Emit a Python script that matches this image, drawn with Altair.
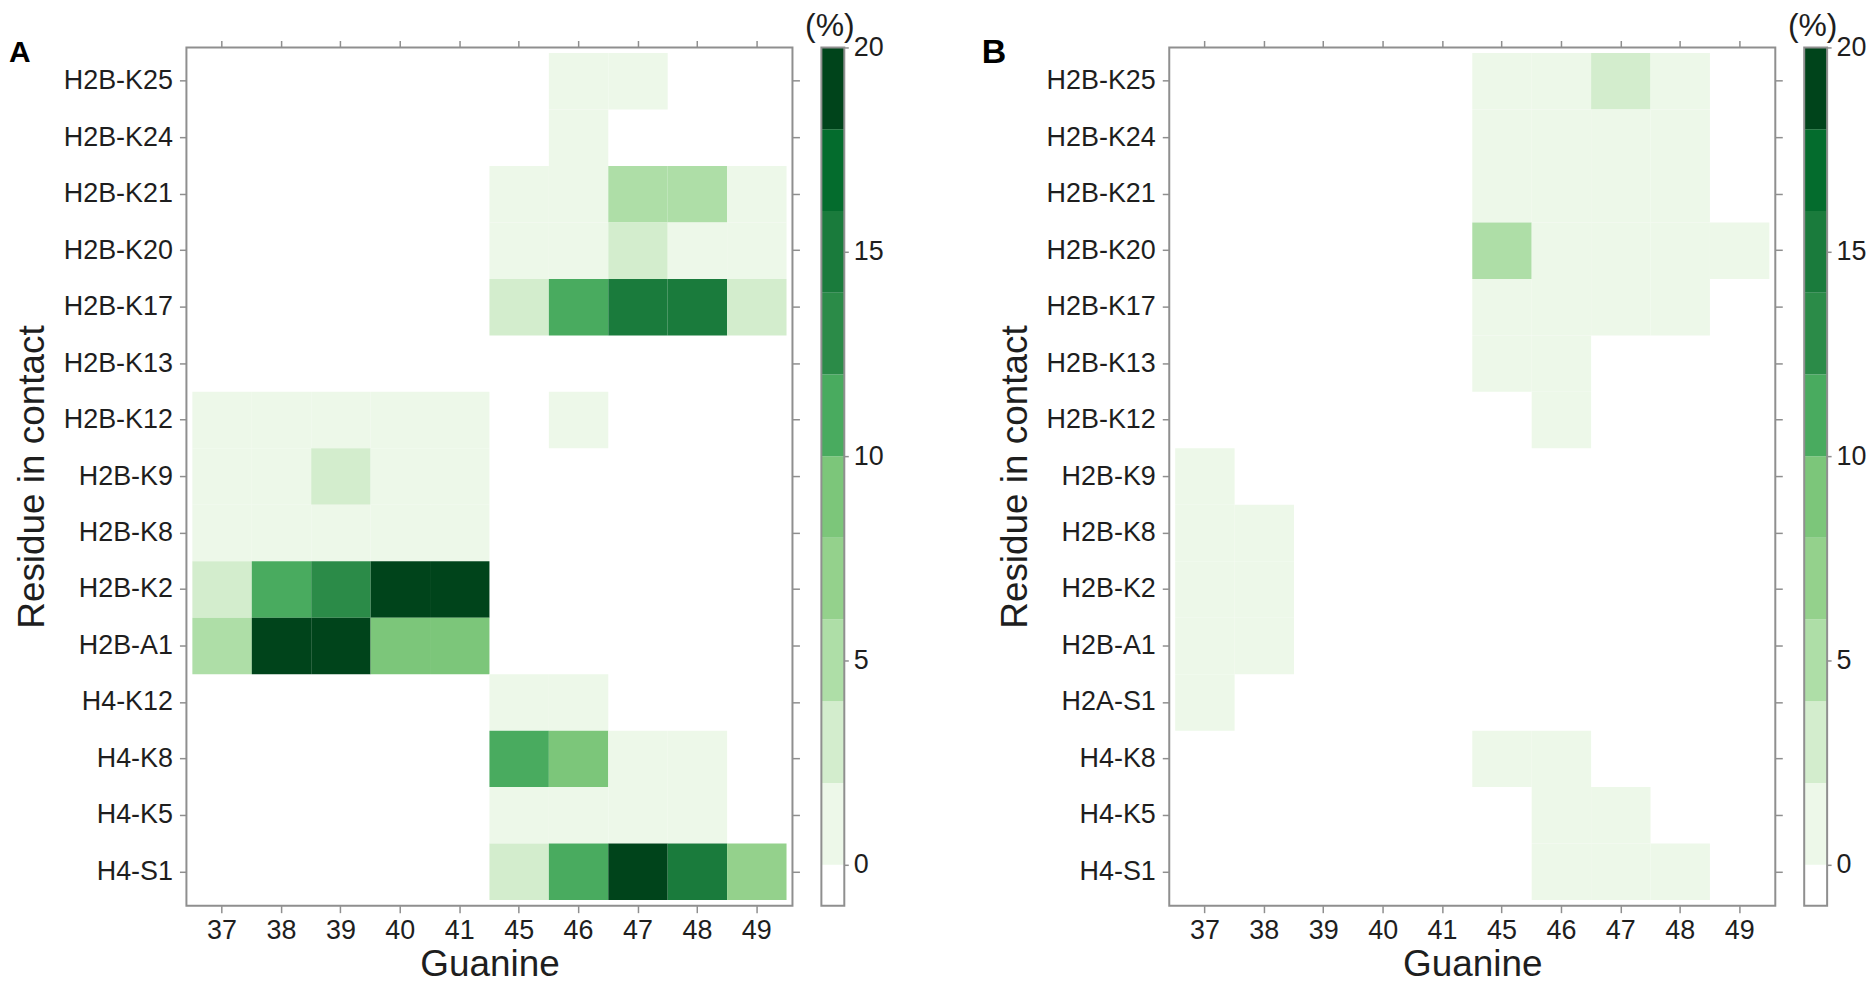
import altair as alt
import pandas as pd

# ---------------- data ----------------
guanine = ["37", "38", "39", "40", "41", "45", "46", "47", "48", "49"]

residues_a = ["H2B-K25", "H2B-K24", "H2B-K21", "H2B-K20", "H2B-K17", "H2B-K13",
              "H2B-K12", "H2B-K9", "H2B-K8", "H2B-K2", "H2B-A1", "H4-K12",
              "H4-K8", "H4-K5", "H4-S1"]
#            37  38  39  40  41  45  46  47  48  49
a_h2b_k25 = [0,  0,  0,  0,  0,  0,  1,  1,  0,  0]
a_h2b_k24 = [0,  0,  0,  0,  0,  0,  1,  0,  0,  0]
a_h2b_k21 = [0,  0,  0,  0,  0,  1,  1,  5,  5,  1]
a_h2b_k20 = [0,  0,  0,  0,  0,  1,  1,  3,  1,  1]
a_h2b_k17 = [0,  0,  0,  0,  0,  3, 11, 15, 15,  3]
a_h2b_k13 = [0,  0,  0,  0,  0,  0,  0,  0,  0,  0]
a_h2b_k12 = [1,  1,  1,  1,  1,  0,  1,  0,  0,  0]
a_h2b_k9  = [1,  1,  3,  1,  1,  0,  0,  0,  0,  0]
a_h2b_k8  = [1,  1,  1,  1,  1,  0,  0,  0,  0,  0]
a_h2b_k2  = [3, 11, 13, 19, 19,  0,  0,  0,  0,  0]
a_h2b_a1  = [5, 19, 19,  9,  9,  0,  0,  0,  0,  0]
a_h4_k12  = [0,  0,  0,  0,  0,  1,  1,  0,  0,  0]
a_h4_k8   = [0,  0,  0,  0,  0, 11,  9,  1,  1,  0]
a_h4_k5   = [0,  0,  0,  0,  0,  1,  1,  1,  1,  0]
a_h4_s1   = [0,  0,  0,  0,  0,  3, 11, 19, 15,  7]

residues_b = ["H2B-K25", "H2B-K24", "H2B-K21", "H2B-K20", "H2B-K17", "H2B-K13",
              "H2B-K12", "H2B-K9", "H2B-K8", "H2B-K2", "H2B-A1", "H2A-S1",
              "H4-K8", "H4-K5", "H4-S1"]
#            37  38  39  40  41  45  46  47  48  49
b_h2b_k25 = [0,  0,  0,  0,  0,  1,  1,  3,  1,  0]
b_h2b_k24 = [0,  0,  0,  0,  0,  1,  1,  1,  1,  0]
b_h2b_k21 = [0,  0,  0,  0,  0,  1,  1,  1,  1,  0]
b_h2b_k20 = [0,  0,  0,  0,  0,  5,  1,  1,  1,  1]
b_h2b_k17 = [0,  0,  0,  0,  0,  1,  1,  1,  1,  0]
b_h2b_k13 = [0,  0,  0,  0,  0,  1,  1,  0,  0,  0]
b_h2b_k12 = [0,  0,  0,  0,  0,  0,  1,  0,  0,  0]
b_h2b_k9  = [1,  0,  0,  0,  0,  0,  0,  0,  0,  0]
b_h2b_k8  = [1,  1,  0,  0,  0,  0,  0,  0,  0,  0]
b_h2b_k2  = [1,  1,  0,  0,  0,  0,  0,  0,  0,  0]
b_h2b_a1  = [1,  1,  0,  0,  0,  0,  0,  0,  0,  0]
b_h2a_s1  = [1,  0,  0,  0,  0,  0,  0,  0,  0,  0]
b_h4_k8   = [0,  0,  0,  0,  0,  1,  1,  0,  0,  0]
b_h4_k5   = [0,  0,  0,  0,  0,  0,  1,  1,  0,  0]
b_h4_s1   = [0,  0,  0,  0,  0,  0,  1,  1,  1,  0]

values_a = [a_h2b_k25, a_h2b_k24, a_h2b_k21, a_h2b_k20, a_h2b_k17, a_h2b_k13,
            a_h2b_k12, a_h2b_k9, a_h2b_k8, a_h2b_k2, a_h2b_a1, a_h4_k12,
            a_h4_k8, a_h4_k5, a_h4_s1]
values_b = [b_h2b_k25, b_h2b_k24, b_h2b_k21, b_h2b_k20, b_h2b_k17, b_h2b_k13,
            b_h2b_k12, b_h2b_k9, b_h2b_k8, b_h2b_k2, b_h2b_a1, b_h2a_s1,
            b_h4_k8, b_h4_k5, b_h4_s1]

# colour bar bins (%)
bin_lo = [-1, 0, 2, 4, 6, 8, 10, 12, 14, 16, 18]
bin_hi = [0, 2, 4, 6, 8, 10, 12, 14, 16, 18, 20]
thresholds = [0, 2, 4, 6, 8, 10, 12, 14, 16, 18]
palette = ["#ffffff", "#edf8e9", "#d3edcd", "#aedea7", "#94d18c", "#7cc67a",
           "#49ab5f", "#2b8b48", "#1a7b3c", "#046c2d", "#00441b"]
cbar_ticks = [0, 5, 10, 15, 20]
cbar_title = "(%)"

x_title = "Guanine"
y_title = "Residue in contact"

# ---------------- style ----------------
FONT = "Liberation Sans"
GRAY = "#8f8f8f"
TXT = "#1e1e1e"
W, H = 608, 861
CB_X0, CB_X1 = 637, 660

color_scale = alt.Scale(type="threshold", domain=thresholds, range=palette)


def panel(names, vals, letter, letter_size, letter_dx, letter_dy):
    recs = []
    for name, row in zip(names, vals):
        for g, v in zip(guanine, row):
            recs.append({"res": name, "g": g, "v": v})
    df = pd.DataFrame(recs)
    xs = alt.Scale(domain=guanine, paddingInner=0, paddingOuter=0.1)
    ys = alt.Scale(domain=names, paddingInner=0, paddingOuter=0.1)
    base = alt.Chart(df).transform_filter("datum.v > 0")
    main = base.mark_rect().encode(
        x=alt.X("g:O", scale=xs, axis=alt.Axis(
            title=x_title, orient="bottom", labelAngle=0, labelPadding=5,
            titlePadding=3)),
        y=alt.Y("res:O", scale=ys, axis=alt.Axis(
            title=y_title, orient="left", labelPadding=7, titlePadding=12)),
        color=alt.Color("v:Q", scale=color_scale, legend=None),
    )
    ghost = base.mark_rect(opacity=0).encode(
        x=alt.X("g:O", scale=xs, axis=alt.Axis(orient="top", labels=False, title=None)),
        y=alt.Y("res:O", scale=ys, axis=alt.Axis(orient="right", labels=False, title=None)),
    )
    # colour bar
    cdf = pd.DataFrame({"lo": bin_lo, "hi": bin_hi})
    cdf["mid"] = (cdf["lo"] + cdf["hi"]) / 2
    cbar = alt.Chart(cdf).mark_rect().encode(
        x=alt.value(CB_X0), x2=alt.value(CB_X1),
        y=alt.Y("lo:Q", scale=alt.Scale(domain=[-1, 20], nice=False, zero=False),
                axis=alt.Axis(orient="right", values=cbar_ticks, title=None,
                              tickSize=4, labelPadding=5, offset=CB_X1 - W)),
        y2="hi:Q",
        color=alt.Color("mid:Q", scale=color_scale, legend=None),
    )
    border = alt.Chart(pd.DataFrame({"t": [cbar_title]})).mark_rect(
        fillOpacity=0, stroke=GRAY, strokeWidth=2
    ).encode(x=alt.value(CB_X0), x2=alt.value(CB_X1), y=alt.value(0), y2=alt.value(H))
    ttl = alt.Chart(pd.DataFrame({"t": [cbar_title]})).mark_text(
        font=FONT, fontSize=32, align="center", baseline="alphabetic", color=TXT
    ).encode(text="t:N", x=alt.value((CB_X0 + CB_X1) / 2 - 3), y=alt.value(-11))
    lab = alt.Chart(pd.DataFrame({"t": [letter]})).mark_text(
        font=FONT, fontSize=letter_size, fontWeight="bold", align="left",
        baseline="alphabetic", color="#000000"
    ).encode(text="t:N", x=alt.value(letter_dx), y=alt.value(letter_dy))
    return alt.layer(main, ghost, cbar, border, ttl, lab).resolve_scale(
        y="independent").resolve_axis(x="independent", y="independent"
    ).properties(width=W, height=H)


panel_a = panel(residues_a, values_a, "A", 30, -178, 15)
panel_b = panel(residues_b, values_b, "B", 34, -188, 16)

chart = alt.hconcat(panel_a, panel_b, spacing=378, bounds="flush").properties(
    padding={"left": 0, "top": 0, "right": 0, "bottom": 0}
).configure_view(
    stroke=GRAY, strokeWidth=2
).configure_axis(
    labelFont=FONT, titleFont=FONT, labelFontSize=27, titleFontSize=37,
    titleFontWeight="normal", labelColor=TXT, titleColor=TXT,
    tickColor=GRAY, tickWidth=1.5, tickSize=7, domain=False, grid=False,
)

chart.save("out.html", embed_options={"renderer": "svg", "actions": False})
